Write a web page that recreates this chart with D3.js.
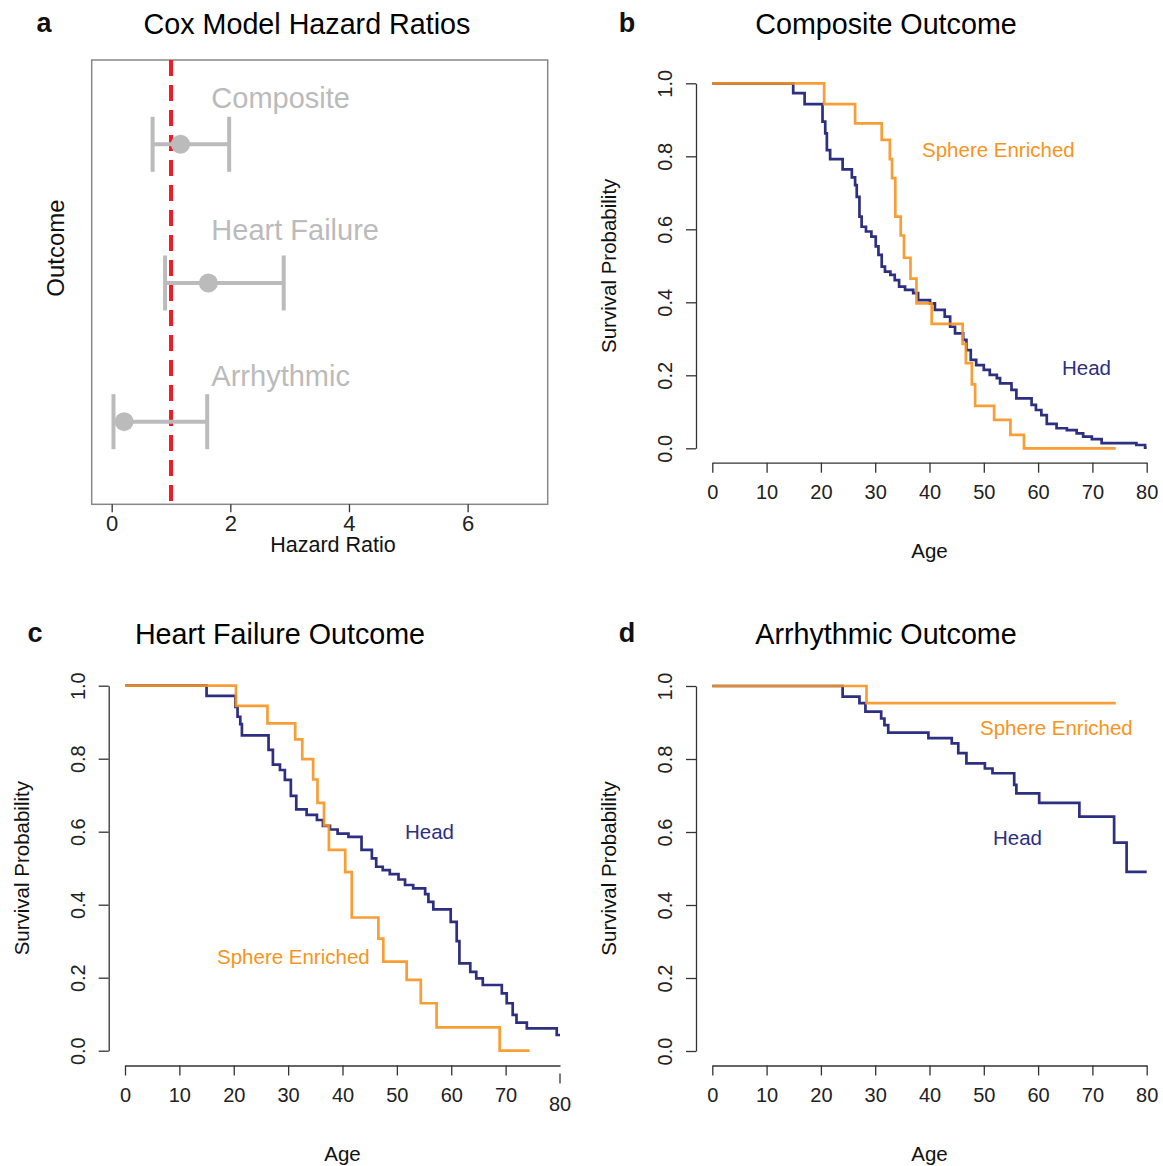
<!DOCTYPE html>
<html>
<head>
<meta charset="utf-8">
<script src="https://cdn.jsdelivr.net/npm/d3@7"></script>
<style>
  html, body { margin: 0; padding: 0; background: #fff; }
  svg { display: block; font-family: "Liberation Sans", Arial, Helvetica, sans-serif; }
  .tick text { fill: #222; }
</style>
</head>
<body>
<svg id="chart" width="1163" height="1166"></svg>
<script>
// ---- panel a: Cox model hazard ratios ----
const outcomes = ['Composite', 'Heart Failure', 'Arrhythmic'];
const hrRow = [3, 2, 1];
const hrPoint = [1.16, 1.63, 0.21];
const hrLower = [0.69, 0.90, 0.03];
const hrUpper = [1.98, 2.90, 1.61];
const hrLabelRow = [3.26, 2.31, 1.26];
const hrTicks = [0, 2, 4, 6];

// ---- survival curves (age at each step, survival after the step) ----
const ageTicks = [0, 10, 20, 30, 40, 50, 60, 70, 80];
const survTicks = [0, 0.2, 0.4, 0.6, 0.8, 1.0];

// b: composite outcome
const compHeadAge = [0, 14.9, 17.0, 20.3, 20.8, 21.1, 21.7, 24.0, 25.7, 26.3, 26.6, 27.1, 27.5, 28.3, 29.3,
  30.1, 30.6, 31.2, 31.8, 32.8, 33.6, 34.4, 35.5, 37.0, 37.9, 40.1, 41.0, 42.8, 43.8, 44.7, 46.2, 46.8,
  47.6, 48.6, 50.0, 51.1, 52.4, 53.0, 55.1, 56.0, 58.8, 59.6, 60.6, 61.6, 63.4, 65.3, 67.1, 68.3, 69.9,
  71.7, 78.1, 79.7, 80];
const compHeadSurv = [1, 0.973, 0.943, 0.895, 0.863, 0.817, 0.792, 0.764, 0.742, 0.721, 0.689, 0.635, 0.607,
  0.594, 0.580, 0.553, 0.530, 0.498, 0.484, 0.475, 0.461, 0.443, 0.434, 0.425, 0.406, 0.397, 0.379, 0.361,
  0.333, 0.315, 0.297, 0.269, 0.242, 0.228, 0.215, 0.201, 0.192, 0.178, 0.160, 0.137, 0.119, 0.105, 0.091,
  0.067, 0.055, 0.050, 0.041, 0.032, 0.025, 0.014, 0.009, 0.002, 0.002];
const compSphereAge = [0, 20.6, 26.3, 31.2, 32.7, 33.1, 33.7, 34.7, 35.3, 36.5, 37.6, 40.4, 46.1, 46.7,
  47.8, 48.4, 51.9, 54.9, 57.4, 74.3];
const compSphereSurv = [1, 0.943, 0.890, 0.845, 0.792, 0.740, 0.635, 0.583, 0.522, 0.465, 0.397, 0.341,
  0.286, 0.233, 0.175, 0.116, 0.078, 0.037, 0, 0];

// c: heart failure outcome
const hfHeadAge = [0, 15.0, 20.3, 20.7, 21.2, 21.5, 26.4, 27.2, 28.5, 29.4, 30.5, 31.5, 33.4, 35.3, 36.4,
  37.7, 39.1, 41.1, 43.5, 45.4, 46.2, 47.4, 48.7, 50.3, 51.5, 53.0, 55.2, 55.8, 56.7, 59.9, 61.0, 61.5,
  63.5, 64.6, 65.8, 69.3, 70.2, 71.3, 72.0, 73.9, 79.4, 80];
const hfHeadSurv = [1, 0.972, 0.942, 0.915, 0.895, 0.864, 0.824, 0.784, 0.769, 0.742, 0.698, 0.661, 0.646,
  0.632, 0.616, 0.606, 0.595, 0.586, 0.550, 0.527, 0.504, 0.495, 0.484, 0.469, 0.454, 0.445, 0.429, 0.408,
  0.387, 0.353, 0.300, 0.239, 0.216, 0.198, 0.180, 0.157, 0.130, 0.098, 0.077, 0.061, 0.043, 0.043];
const hfSphereAge = [0, 20.4, 26.2, 31.3, 32.6, 34.6, 35.4, 36.6, 37.5, 40.5, 41.7, 46.6, 47.5, 51.8, 54.4,
  57.3, 68.9, 74.4];
const hfSphereSurv = [1, 0.945, 0.897, 0.853, 0.799, 0.743, 0.679, 0.617, 0.550, 0.489, 0.365, 0.307,
  0.244, 0.194, 0.130, 0.064, 0, 0];

// d: arrhythmic outcome
const arrHeadAge = [0, 24.0, 27.1, 28.2, 31.1, 31.7, 32.4, 39.8, 44.1, 45.3, 46.8, 50.2, 51.6, 55.6, 56.0,
  60.2, 67.6, 74.0, 76.3, 80];
const arrHeadSurv = [1, 0.971, 0.953, 0.930, 0.911, 0.893, 0.872, 0.857, 0.843, 0.816, 0.788, 0.774, 0.761,
  0.729, 0.706, 0.680, 0.642, 0.571, 0.491, 0.491];
const arrSphereAge = [0, 28.4, 74.3];
const arrSphereSurv = [1, 0.953, 0.953];

const NAVY = '#2d2f80';
const ORANGE = '#f7941e';
const GREY = '#bbbbbb';
const AXIS = '#333';

const svg = d3.select('#chart');
svg.append('rect').attr('width', 1163).attr('height', 1166).attr('fill', '#fff');

// little helper for the panel letters and titles
function heading(letter, lx, title, tx, baseline) {
  svg.append('text').attr('x', lx).attr('y', baseline - 2)
    .attr('text-anchor', 'middle').attr('font-size', 27).attr('font-weight', 'bold')
    .attr('fill', '#111').text(letter);
  svg.append('text').attr('x', tx).attr('y', baseline)
    .attr('text-anchor', 'middle').attr('font-size', 28.7).attr('fill', '#000').text(title);
}

// -----------------------------
// Panel a: forest plot
// -----------------------------
function drawForest() {
  const x = d3.scaleLinear().domain([-0.337, 7.35]).range([91.7, 547.7]);
  const y = d3.scaleLinear().domain([0.404, 3.608]).range([504.3, 60]);
  const g = svg.append('g');

  heading('a', 44, 'Cox Model Hazard Ratios', 307, 34);

  g.append('rect')
    .attr('x', x.range()[0]).attr('y', y.range()[1])
    .attr('width', x.range()[1] - x.range()[0]).attr('height', y.range()[0] - y.range()[1])
    .attr('fill', 'none').attr('stroke', '#888').attr('stroke-width', 1.5);

  const ax = g.append('g').attr('transform', `translate(0,${y.range()[0]})`)
    .call(d3.axisBottom(x).tickValues(hrTicks).tickSize(8).tickPadding(3));
  ax.select('.domain').remove();
  ax.selectAll('line').attr('stroke', AXIS).attr('stroke-width', 1.3);
  ax.selectAll('text').attr('font-size', 22).attr('font-family', null);

  svg.append('text').attr('x', 333).attr('y', 552).attr('text-anchor', 'middle')
    .attr('font-size', 21.5).attr('fill', '#111').text('Hazard Ratio');
  svg.append('text').attr('transform', 'translate(64,248) rotate(-90)').attr('text-anchor', 'middle')
    .attr('font-size', 24).attr('fill', '#111').text('Outcome');

  // reference line at HR = 1
  g.append('line')
    .attr('x1', x(1)).attr('x2', x(1)).attr('y1', y.range()[1]).attr('y2', y.range()[0])
    .attr('stroke', '#ee1c25').attr('stroke-width', 4).attr('stroke-dasharray', '16 9');

  outcomes.forEach((name, i) => {
    const cy = y(hrRow[i]);
    g.append('line').attr('x1', x(hrLower[i])).attr('x2', x(hrUpper[i]))
      .attr('y1', cy).attr('y2', cy).attr('stroke', GREY).attr('stroke-width', 4);
    [hrLower[i], hrUpper[i]].forEach(v => {
      g.append('line').attr('x1', x(v)).attr('x2', x(v))
        .attr('y1', cy - 27.5).attr('y2', cy + 27.5).attr('stroke', GREY).attr('stroke-width', 4);
    });
    g.append('circle').attr('cx', x(hrPoint[i])).attr('cy', cy).attr('r', 9.5).attr('fill', GREY);
    g.append('text').attr('x', x(1.68)).attr('y', y(hrLabelRow[i]))
      .attr('font-size', 29).attr('fill', GREY).text(name);
  });
}

// -----------------------------
// Panels b, c, d: Kaplan-Meier curves
// -----------------------------
function drawKM(p) {
  const x = d3.scaleLinear().domain([0, 80]).range(p.xRange);
  const y = d3.scaleLinear().domain([0, 1]).range(p.yRange);
  const g = svg.append('g');

  heading(p.letter, p.letterX, p.title, p.titleX, p.baseline);

  // x axis (panel c has its 80 tick knocked out of line)
  const xt = p.shift80 ? ageTicks.filter(d => d < 80) : ageTicks;
  const ax = g.append('g').attr('transform', `translate(0,${p.xAxisY})`)
    .call(d3.axisBottom(x).tickValues(xt).tickSize(10).tickSizeOuter(0).tickPadding(12));
  ax.select('.domain').attr('stroke', AXIS).attr('stroke-width', 1.3);
  ax.selectAll('line').attr('stroke', AXIS).attr('stroke-width', 1.3);
  ax.selectAll('text').attr('font-size', 20).attr('font-family', null);
  if (p.shift80) {
    g.append('line').attr('x1', x(80)).attr('x2', x(80))
      .attr('y1', p.xAxisY + 8).attr('y2', p.xAxisY + 18).attr('stroke', AXIS).attr('stroke-width', 1.3);
    g.append('text').attr('x', x(80)).attr('y', p.xAxisY + 45).attr('text-anchor', 'middle')
      .attr('font-size', 20).attr('fill', '#222').text('80');
  }

  // y axis, labels parallel to the axis as in base R
  const ay = g.append('g').attr('transform', `translate(${p.yAxisX},0)`)
    .call(d3.axisLeft(y).tickValues(survTicks).tickFormat(d3.format('.1f')).tickSize(10).tickSizeOuter(0));
  ay.select('.domain').attr('stroke', AXIS).attr('stroke-width', 1.3);
  ay.selectAll('line').attr('stroke', AXIS).attr('stroke-width', 1.3);
  ay.selectAll('text')
    .attr('font-size', 20).attr('font-family', null)
    .attr('x', 0).attr('y', 0).attr('dy', '0.36em').attr('text-anchor', 'middle')
    .attr('transform', 'translate(-31,0) rotate(-90)');

  svg.append('text').attr('x', x(40)).attr('y', p.xAxisY + 95).attr('text-anchor', 'middle')
    .attr('font-size', 20.5).attr('fill', '#111').text('Age');
  svg.append('text')
    .attr('transform', `translate(${p.yAxisX - 80},${y(0.5)}) rotate(-90)`)
    .attr('text-anchor', 'middle').attr('font-size', 20.5).attr('fill', '#111').text('Survival Probability');

  const line = d3.line().x(d => x(d[0])).y(d => y(d[1])).curve(d3.curveStepAfter);
  const head = d3.zip(p.headAge, p.headSurv);
  const sphere = d3.zip(p.sphereAge, p.sphereSurv);

  g.append('path').attr('d', line(head)).attr('fill', 'none')
    .attr('stroke', NAVY).attr('stroke-width', 2.7);
  g.append('path').attr('d', line(sphere)).attr('fill', 'none')
    .attr('stroke', ORANGE).attr('stroke-opacity', 0.9).attr('stroke-width', 2.7);

  svg.append('text').attr('x', p.sphereLabel[0]).attr('y', p.sphereLabel[1])
    .attr('font-size', 20.5).attr('fill', ORANGE).text('Sphere Enriched');
  svg.append('text').attr('x', p.headLabel[0]).attr('y', p.headLabel[1])
    .attr('font-size', 20.5).attr('fill', NAVY).text('Head');
}

drawForest();

drawKM({
  letter: 'b', letterX: 627, title: 'Composite Outcome', titleX: 886, baseline: 34,
  xRange: [712.3, 1146.7], yRange: [448.3, 83.3], yAxisX: 696, xAxisY: 462.7,
  headAge: compHeadAge, headSurv: compHeadSurv, sphereAge: compSphereAge, sphereSurv: compSphereSurv,
  sphereLabel: [922, 157], headLabel: [1062, 375]
});

drawKM({
  letter: 'c', letterX: 35, title: 'Heart Failure Outcome', titleX: 280, baseline: 644, shift80: true,
  xRange: [125, 560], yRange: [1050.7, 685.7], yAxisX: 108.7, xAxisY: 1065.5,
  headAge: hfHeadAge, headSurv: hfHeadSurv, sphereAge: hfSphereAge, sphereSurv: hfSphereSurv,
  sphereLabel: [217, 964], headLabel: [405, 839]
});

drawKM({
  letter: 'd', letterX: 627, title: 'Arrhythmic Outcome', titleX: 886, baseline: 644,
  xRange: [712.3, 1146.7], yRange: [1051, 686], yAxisX: 696, xAxisY: 1065.5,
  headAge: arrHeadAge, headSurv: arrHeadSurv, sphereAge: arrSphereAge, sphereSurv: arrSphereSurv,
  sphereLabel: [980, 735], headLabel: [993, 845]
});
</script>
</body>
</html>
